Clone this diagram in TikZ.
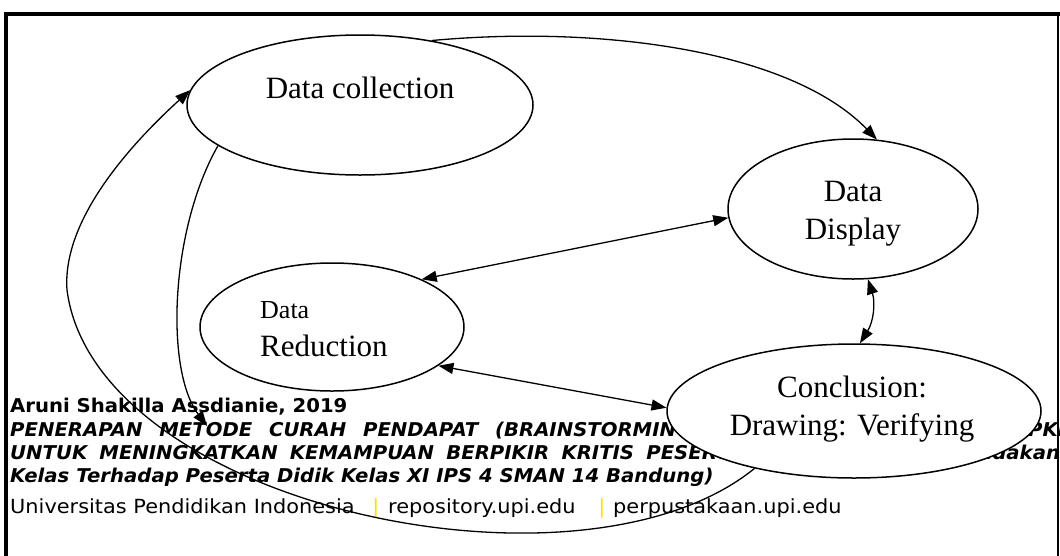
\documentclass[tikz,border=0pt]{standalone}
\usepackage{fontspec}
\setmainfont{Liberation Serif}
\newfontfamily\footfont[FakeStretch=1.07]{DejaVu Sans}
\newfontfamily\footbfont[FakeStretch=1.035]{DejaVu Sans}
\usetikzlibrary{shapes.geometric,arrows.meta}
\definecolor{upiyellow}{RGB}{255,225,0}

\begin{document}
\begin{tikzpicture}[x=1pt,y=-1pt,>={Triangle[length=15pt,width=11pt]},
    ell/.style={draw,ellipse,fill=white,line width=1.5pt,inner sep=0pt},
    lbl/.style={inner sep=0pt,anchor=base,font=\fontsize{31}{38}\selectfont},
    foot/.style={inner sep=0pt,anchor=base west,font=\footbfont\fontsize{19}{23}\selectfont\bfseries\itshape},
    plain/.style={inner sep=0pt,anchor=base west,font=\footfont\fontsize{19.5}{23}\selectfont},
    link/.style={line width=1.3pt}]
  \useasboundingbox (0,0) rectangle (1060,555);
  % bingkai
  \draw[line width=4.5pt] (6,560) -- (6,14) -- (1062,14);
  \draw[line width=1.2pt] (1058,14) -- (1058,560);
  % teks kaki halaman
  \node[foot,font=\footbfont\fontsize{19}{23}\selectfont\bfseries] (author) at (10,412) {Aruni Shakilla Assdianie, 2019};
  \node[foot] (title1) at (10,436) {\makebox[682pt][s]{PENERAPAN METODE CURAH PENDAPAT (BRAINSTORMING}};
  \node[foot] (title1r) at (1028,436) {PKN};
  \node[foot] (title2) at (10,459) {\makebox[733pt][s]{UNTUK MENINGKATKAN KEMAMPUAN BERPIKIR KRITIS PESERTA}};
  \node[foot] (title2r) at (958,459) {Tindakan};
  \node[foot] (title3) at (10,482) {Kelas Terhadap Peserta Didik Kelas XI IPS 4 SMAN 14 Bandung)};
  \node[plain] (univ) at (10,513) {Universitas Pendidikan Indonesia};
  \node[plain,anchor=base,text=upiyellow] (bar1) at (376,513) {|};
  \node[plain] (repo) at (388,513) {repository.upi.edu};
  \node[plain,anchor=base,text=upiyellow] (bar2) at (602,513) {|};
  \node[plain] (perpus) at (613,513) {perpustakaan.upi.edu};
  % elips
  \node[ell,minimum width=346pt,minimum height=140pt] (coll) at (360,105) {};
  \node[lbl] (colltxt) at (360,98) {Data collection};
  \node[ell,minimum width=250pt,minimum height=140pt] (disp) at (853,209) {};
  \node[lbl,align=center] (disptxt) at (853,239) {Data\\Display};
  \node[ell,minimum width=264pt,minimum height=128pt] (red) at (332,327) {};
  \node[lbl,anchor=base west,font=\fontsize{26}{30}\selectfont] (redtop) at (260,318) {Data};
  \node[lbl,anchor=base west] (redbot) at (260,356) {Reduction};
  \node[ell,minimum width=374pt,minimum height=134pt] (concl) at (854,411) {};
  \node[lbl,align=center] (concltxt) at (852,435) {Conclusion:\\Drawing: Verifying};
  \coordinate (redin) at (207,426);
  % panah
  \draw[link,->] (coll.42) .. controls (600,25) and (790,50) .. (disp.71);
  \draw[link,<->] (red.28) -- (disp.184);
  \draw[link,<->] (disp.-78) to[bend left=25] (concl.85);
  \draw[link,<->] (red.-20) -- (concl.179);
  \draw[link,->] (coll.196) .. controls (170,230) and (165,370) .. (redin);
  \draw[link,->] (concl.210) .. controls (580,610) and (95,505) .. (67,290)
    .. controls (62,220) and (130,145) .. (coll.175);
\end{tikzpicture}
\end{document}
